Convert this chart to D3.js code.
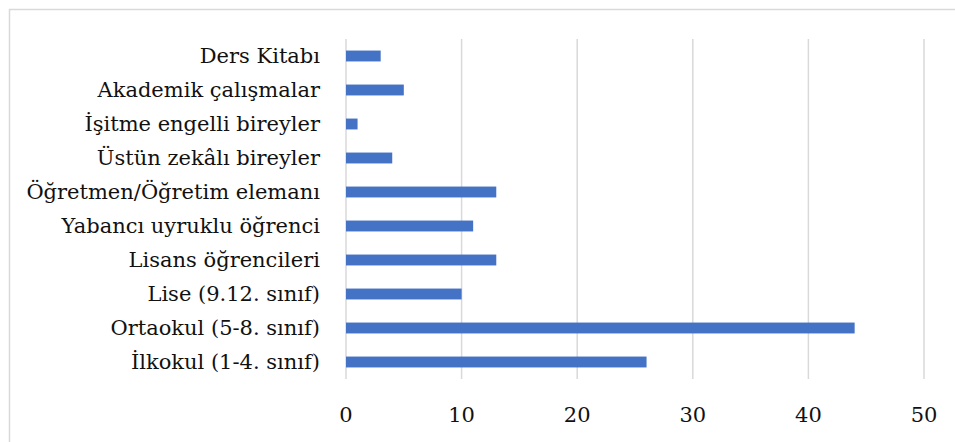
<!DOCTYPE html>
<html><head><meta charset="utf-8">
<script src="https://cdn.jsdelivr.net/npm/d3@7"></script>
<style>body{margin:0;background:#fff;} svg{display:block;}</style>
</head><body>
<script>
const categories = ["Ders Kitabı","Akademik çalışmalar","İşitme engelli bireyler","Üstün zekâlı bireyler","Öğretmen/Öğretim elemanı","Yabancı uyruklu öğrenci","Lisans öğrencileri","Lise (9.12. sınıf)","Ortaokul (5-8. sınıf)","İlkokul (1-4. sınıf)"];
const values = [3,5,1,4,13,11,13,10,44,26];
const tickValues = [0,10,20,30,40,50];

const W = 955, H = 442;
const svg = d3.select("body").append("svg").attr("width", W).attr("height", H);
svg.append("rect").attr("x",9.5).attr("y",9.5).attr("width",W).attr("height",H)
  .attr("fill","#fff").attr("stroke","#d9d9d9").attr("stroke-width",1.5);

const x = d3.scaleLinear().domain([0,50]).range([346,924]);
const y = d3.scaleBand().domain(categories).range([39,379]).paddingInner(0.68).paddingOuter(0.34);
const font = "'DejaVu Serif', serif";

svg.append("g").selectAll("line").data(tickValues).join("line")
  .attr("x1",d=>x(d)).attr("x2",d=>x(d)).attr("y1",39).attr("y2",379)
  .attr("stroke","#d9d9d9").attr("stroke-width",1.5);

svg.append("g").selectAll("rect").data(values).join("rect")
  .attr("x",x(0)).attr("y",(d,i)=>y(categories[i]))
  .attr("width",d=>x(d)-x(0)).attr("height",y.bandwidth())
  .attr("fill","#4472c4");

svg.append("g").selectAll("text").data(categories).join("text")
  .attr("x",320).attr("y",d=>y(d)+y.bandwidth()/2).attr("dy","0.35em")
  .attr("text-anchor","end").attr("font-family",font).attr("font-size",21).attr("fill","#111")
  .text(d=>d);

svg.append("g").selectAll("text").data(tickValues).join("text")
  .attr("x",d=>x(d)).attr("y",415).attr("dy","0.35em")
  .attr("text-anchor","middle").attr("font-family",font).attr("font-size",21).attr("fill","#111")
  .text(d=>d);
</script>
</body></html>
